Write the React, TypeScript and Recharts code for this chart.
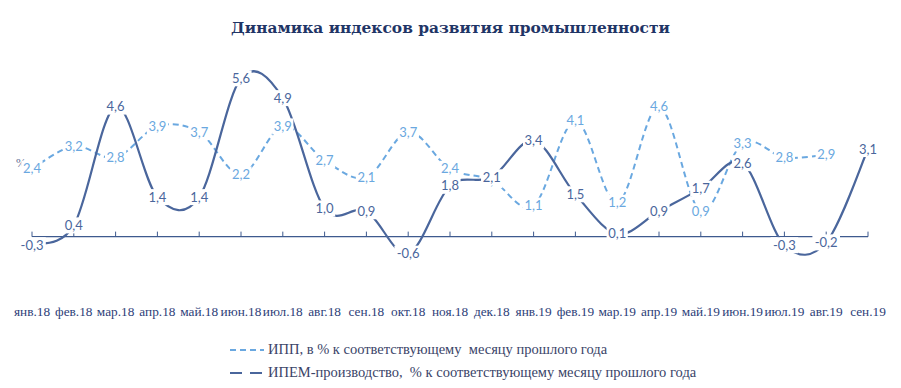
import {
  LabelList,
  Line,
  LineChart,
  ReferenceLine,
  XAxis,
  YAxis,
} from "recharts";

const MONTHS = [
  "янв.18", "фев.18", "мар.18", "апр.18", "май.18", "июн.18", "июл.18",
  "авг.18", "сен.18", "окт.18", "ноя.18", "дек.18", "янв.19", "фев.19",
  "мар.19", "апр.19", "май.19", "июн.19", "июл.19", "авг.19", "сен.19",
];

// ИПП, в % к соответствующему месяцу прошлого года (нет данных за сен.19)
const IPP: (number | null)[] = [
  2.4, 3.2, 2.8, 3.9, 3.7, 2.2, 3.9, 2.7, 2.1, 3.7, 2.4, 2.0, 1.1, 4.1,
  1.2, 4.6, 0.9, 3.3, 2.8, 2.9, null,
];

// ИПЕМ-производство, % к соответствующему месяцу прошлого года
const IPEM: number[] = [
  -0.3, 0.4, 4.6, 1.4, 1.4, 5.6, 4.9, 1.0, 0.9, -0.6, 1.8, 2.1, 3.4, 1.5,
  0.1, 0.9, 1.7, 2.6, -0.3, -0.2, 3.1,
];

const IPP_LABEL = "ИПП, в % к соответствующему  месяцу прошлого года";
const IPEM_LABEL = "ИПЕМ-производство,  % к соответствующему месяцу прошлого года";

const LIGHT = "#6aa8e0";
const DARK = "#4a669c";
const NAVY = "#2d3e78";
const SERIF = '"Liberation Serif", serif';
const SANS = 'Lato, "Open Sans", sans-serif';

const data = MONTHS.map((month, i) => ({ month, ipp: IPP[i], ipem: IPEM[i] }));

const fmt = (v: number) => v.toFixed(1).replace(".", ",");

// Excel-style smoothed line (Catmull-Rom through every point)
function excelSmooth(context: any) {
  let xs: number[] = [];
  let ys: number[] = [];
  return {
    areaStart() {},
    areaEnd() {},
    lineStart() {
      xs = [];
      ys = [];
    },
    point(x: number, y: number) {
      xs.push(+x);
      ys.push(+y);
    },
    lineEnd() {
      const n = xs.length;
      if (!n) return;
      context.moveTo(xs[0], ys[0]);
      for (let i = 0; i < n - 1; i++) {
        const a = Math.max(i - 1, 0);
        const d = Math.min(i + 2, n - 1);
        context.bezierCurveTo(
          xs[i] + (xs[i + 1] - xs[a]) / 6,
          ys[i] + (ys[i + 1] - ys[a]) / 6,
          xs[i + 1] - (xs[d] - xs[i]) / 6,
          ys[i + 1] - (ys[d] - ys[i]) / 6,
          xs[i + 1],
          ys[i + 1],
        );
      }
    },
  };
}

function ValueLabel(props: any) {
  const { x, y, value, color } = props;
  if (value == null || x == null || y == null) return null;
  const text = fmt(Number(value));
  const w = text.length * 6.4 + 2;
  return (
    <g>
      <rect x={x - w / 2} y={y - 8} width={w} height={16} fill="#fff" />
      <text
        x={x}
        y={y}
        dy={4.5}
        textAnchor="middle"
        fontFamily={SANS}
        fontSize={13}
        fill={color}
      >
        {text}
      </text>
    </g>
  );
}

function MonthTick({ x, y, payload }: any) {
  return (
    <text
      x={x}
      y={y + 51}
      textAnchor="middle"
      fontFamily={SERIF}
      fontSize={13.3}
      fill={NAVY}
    >
      {payload.value}
    </text>
  );
}

export default function App() {
  return (
    <div
      style={{
        position: "absolute",
        left: 0,
        top: 0,
        width: 901,
        height: 388,
        background: "#fff",
      }}
    >
      <div
        style={{
          position: "absolute",
          top: 19,
          left: 0,
          width: 901,
          textAlign: "center",
          fontFamily: '"DejaVu Serif", serif',
          fontWeight: "bold",
          fontSize: 15.4,
          color: "#1f3566",
        }}
      >
        Динамика индексов развития промышленности
      </div>
      <div
        style={{
          position: "absolute",
          left: 16,
          top: 156,
          fontFamily: SERIF,
          fontSize: 12,
          color: "#5a6a90",
        }}
      >
        %
      </div>
      <LineChart
        width={901}
        height={388}
        data={data}
        margin={{ top: 67, right: 33, left: 32, bottom: 63 }}
      >
        <XAxis
          dataKey="month"
          axisLine={false}
          tickLine={false}
          tickSize={0}
          tickMargin={0}
          interval={0}
          height={60}
          tick={<MonthTick />}
        />
        <YAxis hide domain={[-1, 6]} />
        <ReferenceLine y={0} stroke="#3e5a8e" strokeWidth={1.3} />
        {MONTHS.map((m) => (
          <ReferenceLine
            key={m}
            segment={[
              { x: m, y: 0 },
              { x: m, y: 0.18 },
            ]}
            stroke="#3e5a8e"
            strokeWidth={1}
          />
        ))}
        <Line
          dataKey="ipp"
          type={excelSmooth as any}
          stroke={LIGHT}
          strokeWidth={2}
          strokeDasharray="6 4"
          dot={false}
          activeDot={false}
          isAnimationActive={false}
        >
          <LabelList dataKey="ipp" content={<ValueLabel color={LIGHT} />} />
        </Line>
        <Line
          dataKey="ipem"
          type={excelSmooth as any}
          stroke={DARK}
          strokeWidth={2.2}
          dot={false}
          activeDot={false}
          isAnimationActive={false}
        >
          <LabelList dataKey="ipem" content={<ValueLabel color={DARK} />} />
        </Line>
      </LineChart>
      <div
        style={{
          position: "absolute",
          left: 230,
          top: 338,
          fontFamily: SERIF,
          fontSize: 14.5,
          color: "#3a4468",
          lineHeight: "23px",
          whiteSpace: "pre",
        }}
      >
        <div style={{ display: "flex", alignItems: "center" }}>
          <svg width={36} height={10} style={{ marginRight: 2 }}>
            <line x1={0} y1={5} x2={34} y2={5} stroke={LIGHT} strokeWidth={2} strokeDasharray="6 4" />
          </svg>
          <span>{IPP_LABEL}</span>
        </div>
        <div style={{ display: "flex", alignItems: "center" }}>
          <svg width={36} height={10} style={{ marginRight: 2 }}>
            <line x1={0} y1={5} x2={34} y2={5} stroke={DARK} strokeWidth={2.2} strokeDasharray="12 8" />
          </svg>
          <span>{IPEM_LABEL}</span>
        </div>
      </div>
    </div>
  );
}
